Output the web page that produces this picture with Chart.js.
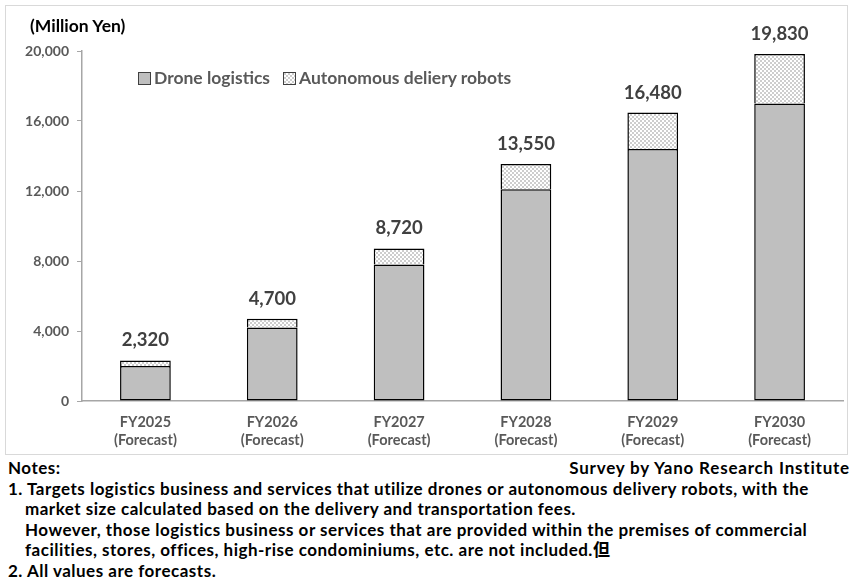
<!DOCTYPE html>
<html>
<head>
<meta charset="utf-8">
<script src="https://cdn.jsdelivr.net/npm/chart.js@4.4.1/dist/chart.umd.min.js"></script>
<style>
  body { margin: 0; background: #fff; font-family: Lato, "Noto Sans CJK JP", sans-serif; }
  #frame { position: absolute; left: 5px; top: 5px; width: 841px; height: 448px; border: 1px solid #d9d9d9; }
  #frame canvas { position: absolute; left: 0; top: 0; }
  .unit { position: absolute; left: 24px; top: 9px; font-weight: bold; font-size: 17.5px; color: #000; }
  .legend { position: absolute; top: 61px; font-weight: bold; font-size: 17.5px; color: #595959; white-space: nowrap; }
  .legend span.box { display: inline-block; width: 11px; height: 11px; border: 1px solid #404040; vertical-align: -1px; margin-right: 3px; }
  .notes { position: absolute; left: 8px; top: 458px; width: 842px; font-weight: bold; font-size: 17px; letter-spacing: 0.5px; line-height: 20.6px; color: #000; white-space: nowrap; }
  .notes .src { position: absolute; right: 0; top: 0; letter-spacing: 0.8px; }
  .notes .ind { padding-left: 17px; }
</style>
</head>
<body>
<div id="frame">
  <canvas id="myChart" width="841" height="448"></canvas>
  <div class="unit">(Million Yen)</div>
  <div class="legend" style="left:132px"><span class="box" style="background:#bfbfbf"></span>Drone logistics</div>
  <div class="legend" style="left:277px"><span class="box" id="patBox"></span>Autonomous deliery robots</div>
</div>
<div class="notes">
  <div>Notes:</div>
  <div class="src">Survey by Yano Research Institute</div>
  <div>1. Targets logistics business and services that utilize drones or autonomous delivery robots, with the</div>
  <div class="ind">market size calculated based on the delivery and transportation fees.</div>
  <div class="ind">However, those logistics business or services that are provided within the premises of commercial</div>
  <div class="ind">facilities, stores, offices, high-rise condominiums, etc. are not included.但</div>
  <div>2. All values are forecasts.</div>
</div>
<script>
const years = ['FY2025', 'FY2026', 'FY2027', 'FY2028', 'FY2029', 'FY2030'];
const droneValues = [2000, 4200, 7800, 12100, 14400, 17000];
const robotValues = [320, 500, 920, 1450, 2080, 2830];
const totals = [2320, 4700, 8720, 13550, 16480, 19830];

// checker pattern for the robots series
const patCanvas = document.createElement('canvas');
patCanvas.width = 4;
patCanvas.height = 4;
const pctx = patCanvas.getContext('2d');
pctx.fillStyle = '#ffffff';
pctx.fillRect(0, 0, 4, 4);
pctx.fillStyle = '#cdcdcd';
pctx.fillRect(0, 0, 2, 2);
pctx.fillRect(2, 2, 2, 2);
document.getElementById('patBox').style.background = 'url(' + patCanvas.toDataURL() + ')';

const ctx = document.getElementById('myChart').getContext('2d');
const pattern = ctx.createPattern(patCanvas, 'repeat');

const totalLabels = {
  id: 'totalLabels',
  afterDatasetsDraw(chart) {
    const meta = chart.getDatasetMeta(1);
    const c = chart.ctx;
    c.save();
    c.font = 'bold 18.5px Lato';
    c.fillStyle = '#404040';
    c.textAlign = 'center';
    c.textBaseline = 'middle';
    meta.data.forEach((bar, i) => {
      c.fillText(totals[i].toLocaleString('en-US'), bar.x, bar.y - 20);
    });
    c.restore();
  }
};

new Chart(ctx, {
  type: 'bar',
  data: {
    labels: years.map(y => [y, '(Forecast)']),
    datasets: [
      {
        label: 'Drone logistics',
        data: droneValues,
        backgroundColor: '#bfbfbf',
        borderColor: '#000',
        borderWidth: 1.5,
        borderSkipped: false,
        barPercentage: 0.4,
        categoryPercentage: 1
      },
      {
        label: 'Autonomous deliery robots',
        data: robotValues,
        backgroundColor: pattern,
        borderColor: '#000',
        borderWidth: 1.5,
        borderSkipped: 'bottom',
        barPercentage: 0.4,
        categoryPercentage: 1
      }
    ]
  },
  options: {
    responsive: false,
    animation: false,
    layout: { padding: { top: 45, right: 4, left: 0, bottom: 0 } },
    plugins: {
      legend: { display: false },
      tooltip: { enabled: false }
    },
    scales: {
      x: {
        stacked: true,
        grid: { display: false },
        border: { display: true, color: '#a6a6a6', width: 1.5 },
        ticks: { color: '#595959', font: { family: 'Lato', weight: 'bold', size: 14.5 }, padding: 5 },
        afterFit(axis) { axis.height = 53; }
      },
      y: {
        stacked: true,
        min: 0,
        max: 20000,
        grid: { drawOnChartArea: false, drawTicks: true, tickLength: 5, color: '#a6a6a6' },
        border: { display: true, color: '#a6a6a6', width: 1.5 },
        ticks: {
          stepSize: 4000,
          color: '#595959',
          font: { family: 'Lato', weight: 'bold', size: 14 },
          padding: 8,
          callback: v => v.toLocaleString('en-US')
        },
        afterFit(axis) { axis.width = 76; }
      }
    }
  },
  plugins: [totalLabels]
});
</script>
</body>
</html>
